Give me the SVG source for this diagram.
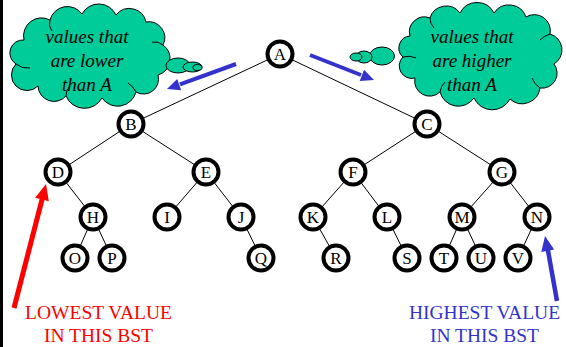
<svg xmlns="http://www.w3.org/2000/svg" width="566" height="347" viewBox="0 0 566 347">
  <style>
    .edge { stroke: #000; stroke-width: 1; fill: none; }
    .node circle { fill: #fff; stroke: #000; stroke-width: 4; }
    .node text { font-family: "Liberation Serif", "Times New Roman", serif; font-size: 17px; text-anchor: middle; fill: #000; }
    .cloud { fill: #00CC99; stroke: #000; stroke-width: 1; }
    .crease { fill: none; stroke: #000; stroke-width: 1; }
    .cloudtext { font-family: "Liberation Serif", "Times New Roman", serif; font-style: italic; font-size: 19px; text-anchor: middle; fill: #000; }
    .note { font-family: "Liberation Serif", "Times New Roman", serif; font-size: 19.5px; text-anchor: middle; }
  </style>

  <!-- frame edge on the left -->
  <rect x="0" y="0" width="3" height="347" fill="#000"/>

  <!-- thought clouds -->
  <g id="cloud-lower">
    <path class="cloud" d="M24,40 A18,18 0 0 1 50,20 A18,18 0 0 1 82,14 A19,19 0 0 1 116,15 A17,17 0 0 1 146,22 A16,16 0 0 1 163,45 A17,17 0 0 1 158,75 A15,15 0 0 1 136,92 A19,19 0 0 1 102,98 A20,20 0 0 1 66,96 A16,16 0 0 1 38,86 A15,15 0 0 1 16,64 A13,13 0 0 1 24,40 Z"/>
    <path class="crease" d="M16,64 Q22,69 30,68"/>
    <path class="crease" d="M66,96 Q66,90 70,86"/>
    <path class="crease" d="M136,92 Q133,86 128,83"/>
    <path class="crease" d="M163,45 Q158,41 152,42"/>
    <path class="crease" d="M50,20 Q48,26 52,31"/>
    <ellipse class="cloud" cx="178" cy="65.5" rx="12" ry="7.5"/>
    <ellipse class="cloud" cx="192.5" cy="67" rx="9.5" ry="5"/>
    <ellipse class="cloud" cx="197.5" cy="67.5" rx="4.5" ry="3"/>
    <text class="cloudtext" x="87" y="43">values that</text>
    <text class="cloudtext" x="87" y="67">are lower</text>
    <text class="cloudtext" x="87" y="91">than A</text>
  </g>

  <g id="cloud-higher">
    <path class="cloud" d="M410,36 A15,15 0 0 1 430,18 A17,17 0 0 1 460,13 A19,19 0 0 1 494,13 A18,18 0 0 1 526,17 A16,16 0 0 1 550,34 A16.5,16.5 0 0 1 554,64 A15,15 0 0 1 540,88 A18,18 0 0 1 510,99 A20,20 0 0 1 474,98 A19,19 0 0 1 440,92 A15,15 0 0 1 415,78 A12.5,12.5 0 0 1 403,57 A12,12 0 0 1 410,36 Z"/>
    <path class="crease" d="M403,57 Q410,55 416,58"/>
    <path class="crease" d="M440,92 Q441,86 445,82"/>
    <path class="crease" d="M540,88 Q534,84 532,78"/>
    <path class="crease" d="M550,34 Q544,36 540,40"/>
    <path class="crease" d="M430,18 Q430,24 434,28"/>
    <ellipse class="cloud" cx="382" cy="56" rx="12.5" ry="9"/>
    <ellipse class="cloud" cx="364" cy="57" rx="8" ry="6"/>
    <ellipse class="cloud" cx="356" cy="57" rx="6" ry="4"/>
    <text class="cloudtext" x="472" y="43">values that</text>
    <text class="cloudtext" x="472" y="67">are higher</text>
    <text class="cloudtext" x="472" y="91">than A</text>
  </g>

  <!-- tree edges -->
  <g id="connectors">
    <line class="edge" x1="280" y1="54" x2="131" y2="124"/>
    <line class="edge" x1="280" y1="54" x2="427" y2="124"/>
    <line class="edge" x1="131" y1="124" x2="58" y2="172"/>
    <line class="edge" x1="131" y1="124" x2="206" y2="172"/>
    <line class="edge" x1="427" y1="124" x2="353" y2="172"/>
    <line class="edge" x1="427" y1="124" x2="502" y2="172"/>
    <line class="edge" x1="58" y1="172" x2="93" y2="217"/>
    <line class="edge" x1="206" y1="172" x2="167" y2="217"/>
    <line class="edge" x1="206" y1="172" x2="241" y2="217"/>
    <line class="edge" x1="353" y1="172" x2="313" y2="217"/>
    <line class="edge" x1="353" y1="172" x2="387" y2="217"/>
    <line class="edge" x1="502" y1="172" x2="462" y2="217"/>
    <line class="edge" x1="502" y1="172" x2="537" y2="217"/>
    <line class="edge" x1="93" y1="217" x2="75" y2="258"/>
    <line class="edge" x1="93" y1="217" x2="112" y2="258"/>
    <line class="edge" x1="241" y1="217" x2="261" y2="258"/>
    <line class="edge" x1="313" y1="217" x2="336" y2="258"/>
    <line class="edge" x1="387" y1="217" x2="407" y2="258"/>
    <line class="edge" x1="462" y1="217" x2="444" y2="258"/>
    <line class="edge" x1="462" y1="217" x2="481" y2="258"/>
    <line class="edge" x1="537" y1="217" x2="518" y2="258"/>
  </g>

  <!-- tree nodes -->
  <g id="node-A" class="node"><circle cx="280" cy="54" r="12.5"/><text x="280" y="60">A</text></g>
  <g id="node-B" class="node"><circle cx="131" cy="124" r="12.5"/><text x="131" y="130">B</text></g>
  <g id="node-C" class="node"><circle cx="427" cy="124" r="12.5"/><text x="427" y="130">C</text></g>
  <g id="node-D" class="node"><circle cx="58" cy="172" r="12.5"/><text x="58" y="178">D</text></g>
  <g id="node-E" class="node"><circle cx="206" cy="172" r="12.5"/><text x="206" y="178">E</text></g>
  <g id="node-F" class="node"><circle cx="353" cy="172" r="12.5"/><text x="353" y="178">F</text></g>
  <g id="node-G" class="node"><circle cx="502" cy="172" r="12.5"/><text x="502" y="178">G</text></g>
  <g id="node-H" class="node"><circle cx="93" cy="217" r="12.5"/><text x="93" y="223">H</text></g>
  <g id="node-I" class="node"><circle cx="167" cy="217" r="12.5"/><text x="167" y="223">I</text></g>
  <g id="node-J" class="node"><circle cx="241" cy="217" r="12.5"/><text x="241" y="223">J</text></g>
  <g id="node-K" class="node"><circle cx="313" cy="217" r="12.5"/><text x="313" y="223">K</text></g>
  <g id="node-L" class="node"><circle cx="387" cy="217" r="12.5"/><text x="387" y="223">L</text></g>
  <g id="node-M" class="node"><circle cx="462" cy="217" r="12.5"/><text x="462" y="223">M</text></g>
  <g id="node-N" class="node"><circle cx="537" cy="217" r="12.5"/><text x="537" y="223">N</text></g>
  <g id="node-O" class="node"><circle cx="75" cy="258" r="12.5"/><text x="75" y="264">O</text></g>
  <g id="node-P" class="node"><circle cx="112" cy="258" r="12.5"/><text x="112" y="264">P</text></g>
  <g id="node-Q" class="node"><circle cx="261" cy="258" r="12.5"/><text x="261" y="264">Q</text></g>
  <g id="node-R" class="node"><circle cx="336" cy="258" r="12.5"/><text x="336" y="264">R</text></g>
  <g id="node-S" class="node"><circle cx="407" cy="258" r="12.5"/><text x="407" y="264">S</text></g>
  <g id="node-T" class="node"><circle cx="444" cy="258" r="12.5"/><text x="444" y="264">T</text></g>
  <g id="node-U" class="node"><circle cx="481" cy="258" r="12.5"/><text x="481" y="264">U</text></g>
  <g id="node-V" class="node"><circle cx="518" cy="258" r="12.5"/><text x="518" y="264">V</text></g>

  <!-- pointer arrows -->
  <g id="arrow-left-subtree">
    <line x1="236" y1="64" x2="180" y2="84.3" stroke="#3333CC" stroke-width="4"/>
    <polygon points="167,89 181.2,90.2 177.2,79.0" fill="#3333CC"/>
  </g>
  <g id="arrow-right-subtree">
    <line x1="310" y1="55" x2="361" y2="75" stroke="#3333CC" stroke-width="4"/>
    <polygon points="374,80 359.7,80.9 364.1,69.7" fill="#3333CC"/>
  </g>
  <g id="arrow-lowest">
    <line x1="14" y1="308" x2="42.3" y2="198.5" stroke="#FF0000" stroke-width="5"/>
    <polygon points="46,184 48.8,201.2 35.2,197.7" fill="#FF0000"/>
  </g>
  <g id="arrow-highest">
    <line x1="557" y1="301" x2="547.9" y2="250" stroke="#3333CC" stroke-width="4.5"/>
    <polygon points="545,236 554.1,249.5 541.3,251.9" fill="#3333CC"/>
  </g>

  <!-- captions -->
  <g id="label-lowest">
    <text class="note" x="98.5" y="319" fill="#FF0000">LOWEST VALUE</text>
    <text class="note" x="98.5" y="342" fill="#FF0000">IN THIS BST</text>
  </g>
  <g id="label-highest">
    <text class="note" x="484.5" y="319" fill="#3333CC">HIGHEST VALUE</text>
    <text class="note" x="484.5" y="342" fill="#3333CC">IN THIS BST</text>
  </g>
</svg>
